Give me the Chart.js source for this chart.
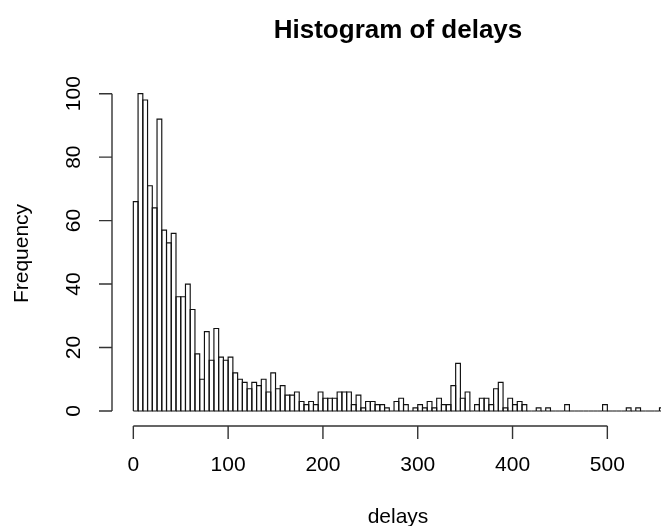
<!DOCTYPE html>
<html>
<head>
<meta charset="utf-8">
<script src="https://cdn.jsdelivr.net/npm/chart.js@4"></script>
<style>
  html, body { margin: 0; padding: 0; background: #fff; overflow: hidden; }
  #wrap { width: 661px; height: 526px; }
</style>
</head>
<body>
<div id="wrap"><canvas id="c" width="661" height="526"></canvas></div>
<script>
// ---- data ----
const binWidth = 5;
const binStarts = [
  0,5,10,15,20,25,30,35,40,45,50,55,60,65,70,75,80,85,90,95,
  100,105,110,115,120,125,130,135,140,145,150,155,160,165,170,175,180,185,190,195,
  200,205,210,215,220,225,230,235,240,245,250,255,260,265,270,275,280,285,290,295,
  300,305,310,315,320,325,330,335,340,345,350,355,360,365,370,375,380,385,390,395,
  400,405,410,415,420,425,430,435,440,445,450,455,460,465,470,475,480,485,490,495,
  500,505,510,515,520,525,530,535,540,545,550,555
];
const counts = [
  66,100,98,71,64,92,57,53,56,36,36,40,32,18,10,25,16,26,17,16,
  17,12,10,9,7,9,8,10,6,12,7,8,5,5,6,3,2,3,2,6,
  4,4,4,6,6,6,2,5,1,3,3,2,2,1,0,3,4,2,0,1,
  2,1,3,1,4,2,2,8,15,4,6,0,2,4,4,2,7,9,1,4,
  2,3,2,0,0,1,0,1,0,0,0,2,0,0,0,0,0,0,0,2,
  0,0,0,0,1,0,1,0,0,0,0,1
];
const xTicks = [0, 100, 200, 300, 400, 500];
const yTicks = [0, 20, 40, 60, 80, 100];
const titleText = "Histogram of delays";
const xTitle = "delays";
const yTitle = "Frequency";

const points = binStarts.map((s, i) => ({ x: s + binWidth / 2, y: counts[i] }));

const FONT = '"Liberation Sans", Arial, sans-serif';

const rHistPlugin = {
  id: 'rHist',
  afterDatasetsDraw(chart) {
    const ctx = chart.ctx;
    const area = chart.chartArea;
    const xs = chart.scales.x, ys = chart.scales.y;
    // bar outlines
    ctx.save();
    ctx.beginPath();
    ctx.rect(area.left, area.top, area.right - area.left + 1, area.bottom - area.top);
    ctx.clip();
    ctx.strokeStyle = '#111';
    ctx.lineWidth = 1.15;
    const meta = chart.getDatasetMeta(0);
    meta.data.forEach(el => {
      const p = el.getProps(['x', 'y', 'base', 'width'], true);
      const l = p.x - p.width / 2;
      ctx.beginPath();
      ctx.moveTo(l, p.base);
      ctx.lineTo(l, p.y);
      ctx.lineTo(l + p.width, p.y);
      ctx.lineTo(l + p.width, p.base);
      ctx.lineTo(l, p.base);
      ctx.stroke();
    });
    ctx.restore();

    // axes (R style)
    ctx.save();
    ctx.strokeStyle = '#333';
    ctx.lineWidth = 1.4;
    const axY = area.bottom;
    const axX = area.left;
    const tl = 13;
    ctx.beginPath();
    ctx.moveTo(xs.getPixelForValue(xTicks[0]), axY);
    ctx.lineTo(xs.getPixelForValue(xTicks[xTicks.length - 1]), axY);
    xTicks.forEach(t => {
      const px = xs.getPixelForValue(t);
      ctx.moveTo(px, axY);
      ctx.lineTo(px, axY + tl);
    });
    ctx.stroke();
    ctx.beginPath();
    ctx.moveTo(axX, ys.getPixelForValue(yTicks[0]));
    ctx.lineTo(axX, ys.getPixelForValue(yTicks[yTicks.length - 1]));
    yTicks.forEach(t => {
      const py = ys.getPixelForValue(t);
      ctx.moveTo(axX, py);
      ctx.lineTo(axX - tl, py);
    });
    ctx.stroke();

    // labels
    ctx.fillStyle = '#000';
    ctx.font = '21px ' + FONT;
    ctx.textAlign = 'center';
    ctx.textBaseline = 'middle';
    xTicks.forEach(t => {
      ctx.fillText(String(t), xs.getPixelForValue(t), 465);
    });
    yTicks.forEach(t => {
      ctx.save();
      ctx.translate(74.5, ys.getPixelForValue(t));
      ctx.rotate(-Math.PI / 2);
      ctx.fillText(String(t), 0, 0);
      ctx.restore();
    });
    const plotCenterX = 398;
    ctx.fillText(xTitle, plotCenterX, 517);
    ctx.save();
    ctx.translate(22.5, (area.top + area.bottom) / 2);
    ctx.rotate(-Math.PI / 2);
    ctx.fillText(yTitle, 0, 0);
    ctx.restore();
    ctx.font = 'bold 26px ' + FONT;
    ctx.fillText(titleText, plotCenterX, 31);
    ctx.restore();
  }
};

new Chart(document.getElementById('c'), {
  type: 'bar',
  data: {
    datasets: [{
      data: points,
      backgroundColor: '#ffffff',
      borderWidth: 0,
      barPercentage: 1.0,
      categoryPercentage: 1.0
    }]
  },
  options: {
    responsive: false,
    animation: false,
    events: [],
    layout: { padding: { left: 112, right: 0, top: 81, bottom: 100 } },
    plugins: { legend: { display: false }, tooltip: { enabled: false }, title: { display: false } },
    scales: {
      x: { type: 'linear', display: false, min: -22.5, max: 556.6, offset: false },
      y: { type: 'linear', display: false, min: -4.73, max: 104 }
    }
  },
  plugins: [rHistPlugin]
});
</script>
</body>
</html>
